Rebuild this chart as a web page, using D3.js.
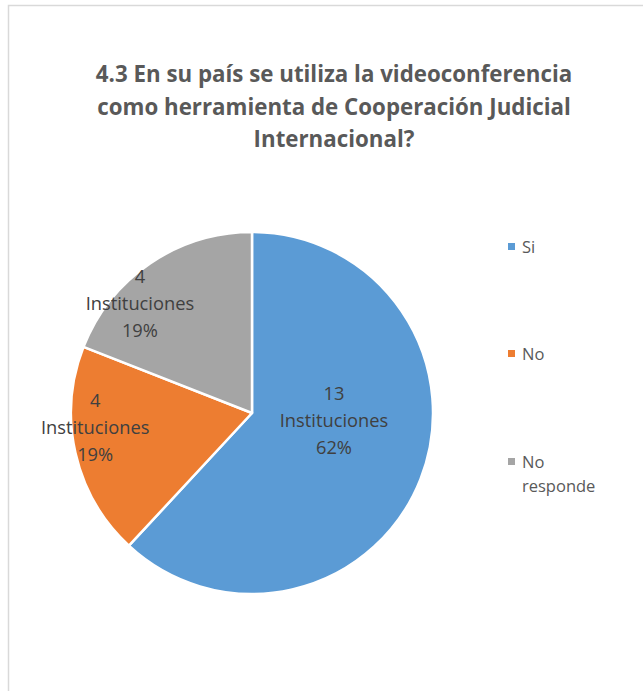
<!DOCTYPE html>
<html>
<head>
<meta charset="utf-8">
<script src="https://cdn.jsdelivr.net/npm/d3@7"></script>
<style>
  html, body { margin: 0; padding: 0; background: #fff; }
  svg { display: block; }
  text { font-family: "Open Sans", "Noto Sans", sans-serif; }
</style>
</head>
<body>
<svg id="chart" width="643" height="691"></svg>
<script>
// Survey answers: number of institutions per response
const categories = ["Si", "No", "No responde"];
const counts = [13, 4, 4];
const colors = ["#5b9bd5", "#ed7d31", "#a5a5a5"];
const titleLines = [
  "4.3 En su país se utiliza la videoconferencia",
  "como herramienta de Cooperación Judicial",
  "Internacional?"
];
const unitLabel = "Instituciones";

const svg = d3.select("#chart");

// chart frame
svg.append("rect")
  .attr("x", 8.5).attr("y", 5.5)
  .attr("width", 660).attr("height", 700)
  .attr("fill", "#fff")
  .attr("stroke", "#d9d9d9").attr("stroke-width", 1.5);

// title
svg.append("g").selectAll("text")
  .data(titleLines)
  .join("text")
  .attr("x", 334)
  .attr("y", (d, i) => 82 + i * 32.5)
  .attr("text-anchor", "middle")
  .attr("font-size", 22.3)
  .attr("font-weight", "bold")
  .attr("fill", "#595959")
  .text(d => d);

// pie
const cx = 252, cy = 413, radius = 181;
const total = d3.sum(counts);
const pie = d3.pie().sort(null).value(d => d)(counts);
const arc = d3.arc().innerRadius(0).outerRadius(radius);
const color = d3.scaleOrdinal().domain(categories).range(colors);

const g = svg.append("g").attr("transform", `translate(${cx},${cy})`);
g.selectAll("path")
  .data(pie)
  .join("path")
  .attr("d", arc)
  .attr("fill", (d, i) => color(categories[i]))
  .attr("stroke", "#fff")
  .attr("stroke-width", 2.5)
  .attr("stroke-linejoin", "round");

// data labels: count, unit, percentage (best-fit placement per slice)
const labelPlace = [
  { r: 0.455, shift: -0.277 },
  { r: 0.87,  shift: 0.135 },
  { r: 0.867, shift: -0.197 }
];
const labels = g.selectAll("g.lbl")
  .data(pie)
  .join("g")
  .attr("class", "lbl")
  .attr("transform", (d, i) => {
    const mid = (d.startAngle + d.endAngle) / 2 + labelPlace[i].shift;
    const [x, y] = d3.pointRadial(mid, radius * labelPlace[i].r);
    return `translate(${x},${y})`;
  });
labels.each(function(d) {
  const lines = [String(d.data), unitLabel, Math.round(d.data / total * 100) + "%"];
  d3.select(this).selectAll("text")
    .data(lines)
    .join("text")
    .attr("text-anchor", "middle")
    .attr("y", (t, j) => (j - 1) * 27 + 6.5)
    .attr("font-size", 18.3)
    .attr("fill", "#404040")
    .text(t => t);
});

// legend
const legendY = [247, 354, 462];
const legend = svg.append("g").selectAll("g")
  .data(categories)
  .join("g")
  .attr("transform", (d, i) => `translate(508,${legendY[i]})`);
legend.append("rect")
  .attr("x", 0).attr("y", -4)
  .attr("width", 7).attr("height", 7)
  .attr("fill", d => color(d));
legend.each(function(d) {
  const words = d === "No responde" ? ["No", "responde"] : [d];
  d3.select(this).selectAll("text")
    .data(words)
    .join("text")
    .attr("x", 14)
    .attr("y", (t, j) => 5.5 + j * 24)
    .attr("font-size", 16.5)
    .attr("fill", "#595959")
    .text(t => t);
});
</script>
</body>
</html>
